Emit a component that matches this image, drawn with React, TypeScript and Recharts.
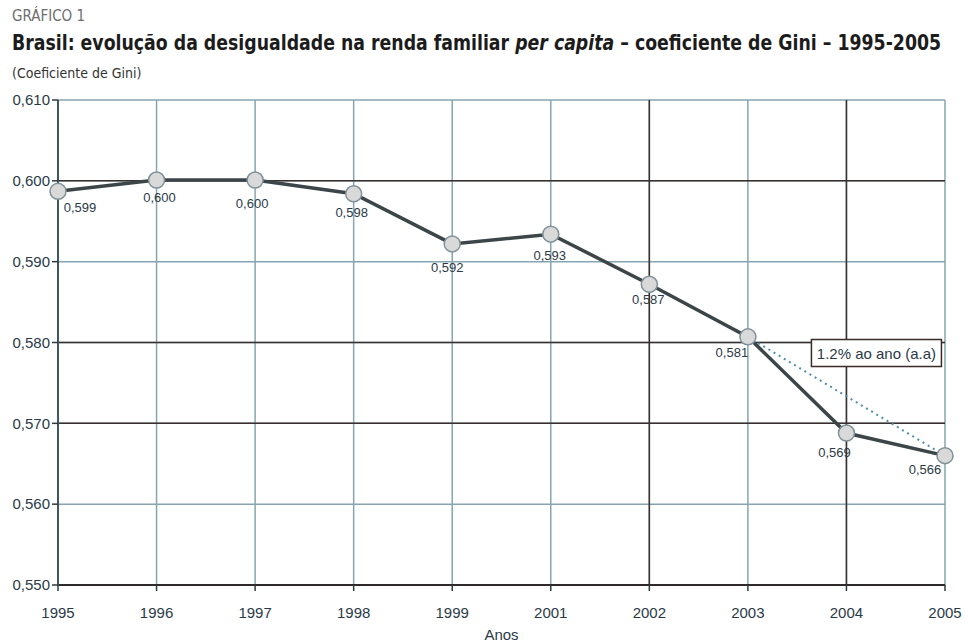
import React from 'react';
import {
  LineChart,
  Line,
  XAxis,
  YAxis,
  CartesianGrid,
  ReferenceLine,
  ReferenceDot,
  LabelList,
} from 'recharts';

// ---- data ----
const years = ['1995', '1996', '1997', '1998', '1999', '2001', '2002', '2003', '2004', '2005'];
const gini = [0.5987, 0.6001, 0.6001, 0.5984, 0.5922, 0.5934, 0.5872, 0.5807, 0.5688, 0.566];
const trend = [null, null, null, null, null, null, null, 0.5807, null, 0.566];
const yTicks = [0.55, 0.56, 0.57, 0.58, 0.59, 0.6, 0.61];
const darkYLines = [0.6, 0.58, 0.57];
const darkXLines = ['2002', '2004'];
const annotationText = '1.2% ao ano (a.a)';
const annotationAnchor = { x: '2004', y: 0.5787 };

const data = years.map((y, i) => ({ year: y, gini: gini[i], trend: trend[i] }));

// ---- style ----
const FONT = '"Liberation Sans", Arial, sans-serif';
const NARROW = '"Liberation Sans Narrow", "DejaVu Sans Condensed", "Liberation Sans", sans-serif';
const TEXT = '#2b3a47';
const GRID_BLUE = '#86a5b1';
const GRID_DARK = '#3b302e';
const LABEL_OFFSET = [
  [22, 16], [3, 17], [-3, 23], [-2, 19], [-5, 24],
  [-1, 21], [-1, 15], [-16, 16], [-12, 19], [-20, 14],
];

const fmt = (v: number) => v.toFixed(3).replace('.', ',');

const PointLabel = (props: any) => {
  const { x, y, value, index } = props;
  const off = LABEL_OFFSET[index] || [0, 18];
  return (
    <text
      x={x + off[0]}
      y={y + off[1]}
      textAnchor="middle"
      dominantBaseline="central"
      fontFamily={FONT}
      fontSize={13}
      fill={TEXT}
    >
      {fmt(value)}
    </text>
  );
};

const AnnotationBox = (props: any) => {
  const { cx, cy } = props;
  const w = 130;
  const h = 27;
  const cxx = cx + 30;
  return (
    <g>
      <rect x={cxx - w / 2} y={cy - h / 2} width={w} height={h} fill="#ffffff" stroke="#3a2a28" strokeWidth={1.5} />
      <text x={cxx} y={cy} textAnchor="middle" dominantBaseline="central" fontFamily={FONT} fontSize={15} fill={TEXT}>
        {annotationText}
      </text>
    </g>
  );
};

export default function App() {
  return (
    <div style={{ position: 'absolute', left: 0, top: 0, width: 965, height: 643, background: '#fff' }}>
      <svg width={965} height={100} style={{ position: 'absolute', left: 0, top: 0 }}>
        <text x={12} y={21} fontFamily={NARROW} fontSize={15} fill="#6e6e6e">
          GRÁFICO 1
        </text>
        <g transform="translate(12,50) scale(0.876,1)">
          <text x={0} y={0} fontFamily={NARROW} fontSize={22} fontWeight="bold" fill="#1c1c1c">
            Brasil: evolução da desigualdade na renda familiar <tspan fontStyle="italic">per capita</tspan> – coeficiente de Gini – 1995-2005
          </text>
        </g>
        <text x={12} y={78} fontFamily={NARROW} fontSize={14} fill="#333">
          (Coeficiente de Gini)
        </text>
      </svg>
      <div style={{ position: 'absolute', left: 0, top: 0 }}>
        <LineChart width={965} height={643} data={data} margin={{ top: 100, right: 20, bottom: 0, left: 8 }}>
          <CartesianGrid stroke={GRID_BLUE} strokeWidth={1.5} />
          {darkYLines.map((v) => (
            <ReferenceLine key={'y' + v} y={v} stroke={GRID_DARK} strokeWidth={1.5} />
          ))}
          {darkXLines.map((v) => (
            <ReferenceLine key={'x' + v} x={v} stroke={GRID_DARK} strokeWidth={1.5} />
          ))}
          <XAxis
            dataKey="year"
            height={58}
            tickSize={6}
            tickMargin={16}
            axisLine={{ stroke: '#2e2a2a', strokeWidth: 2 }}
            tickLine={{ stroke: '#2e3a3e', strokeWidth: 1.5 }}
            tick={{ fontFamily: FONT, fontSize: 15, fill: TEXT }}
            label={{ value: 'Anos', position: 'insideBottom', offset: 3, fontFamily: FONT, fontSize: 15, fill: TEXT }}
          />
          <YAxis
            type="number"
            domain={[0.55, 0.61]}
            ticks={yTicks}
            width={50}
            tickSize={6}
            tickMargin={2}
            tickFormatter={fmt}
            axisLine={{ stroke: '#3d5860', strokeWidth: 2 }}
            tickLine={{ stroke: '#2e3a3e', strokeWidth: 1.5 }}
            tick={{ fontFamily: FONT, fontSize: 15, fill: TEXT }}
            allowDataOverflow
          />
          <Line
            dataKey="trend"
            connectNulls
            stroke="#4f8ea9"
            strokeWidth={2}
            strokeDasharray="2 4"
            dot={false}
            activeDot={false}
            isAnimationActive={false}
          />
          <Line
            dataKey="gini"
            stroke="#3c4649"
            strokeWidth={3.5}
            dot={{ r: 8, fill: '#d9d9d9', stroke: '#7f9199', strokeWidth: 1.5 }}
            activeDot={false}
            isAnimationActive={false}
          >
            <LabelList dataKey="gini" content={<PointLabel />} />
          </Line>
          <ReferenceDot x={annotationAnchor.x} y={annotationAnchor.y} r={0} shape={<AnnotationBox />} />
        </LineChart>
      </div>
    </div>
  );
}
